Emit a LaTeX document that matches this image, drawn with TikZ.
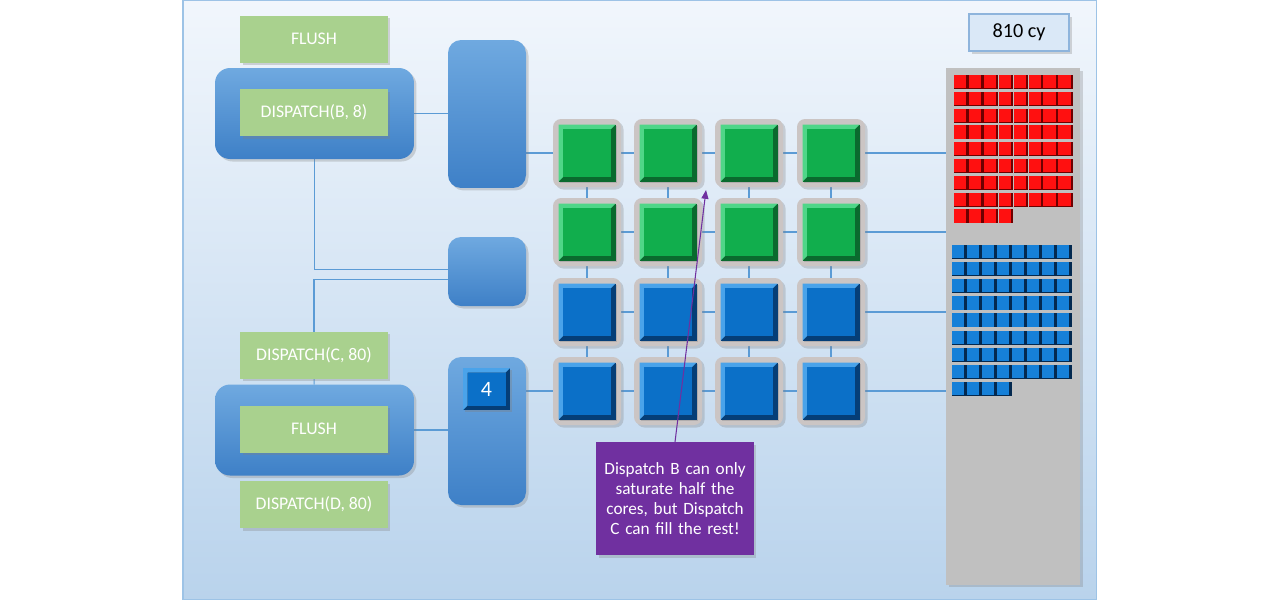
\documentclass[tikz,border=0pt]{standalone}
\usepackage{fontspec}
\setmainfont{Carlito}
\usetikzlibrary{arrows.meta,calc,shadows}

\definecolor{cmdgreen}{HTML}{A9D18E}
\definecolor{qtop}{HTML}{6FA9E0}
\definecolor{qbot}{HTML}{3E80C7}
\definecolor{wire}{HTML}{5B9BD5}
\definecolor{bgtop}{HTML}{F1F6FC}
\definecolor{bgbot}{HTML}{B9D3EC}
\definecolor{framecol}{HTML}{9DC3E6}
\definecolor{cellgray}{HTML}{CBC5C4}
\definecolor{gLight}{HTML}{4FD688}
\definecolor{gMain}{HTML}{11AE4D}
\definecolor{gDark}{HTML}{0A6A2E}
\definecolor{bLight}{HTML}{4AA3EA}
\definecolor{bMain}{HTML}{0B70C8}
\definecolor{bDark}{HTML}{053E77}
\definecolor{memgray}{HTML}{C0C0C0}
\definecolor{noteviolet}{HTML}{7030A0}
\definecolor{cyfill}{HTML}{DAE8F7}
\definecolor{cyline}{HTML}{8EB4DC}
\definecolor{redMain}{HTML}{FF1010}
\definecolor{redDark}{HTML}{6E0000}
\definecolor{blkMain}{HTML}{1680D8}
\definecolor{blkDark}{HTML}{04294F}

\pgfdeclarelayer{bg}
\pgfdeclarelayer{wires}
\pgfsetlayers{bg,wires,main}

\newcommand{\bw}{0.09cm}

\tikzset{
  bevel/.style n args={3}{fill=#3, path picture={
    \fill[#1] (path picture bounding box.north west) -- (path picture bounding box.north east)
      -- ([shift={(-\bw,-\bw)}]path picture bounding box.north east)
      -- ([shift={(\bw,-\bw)}]path picture bounding box.north west)
      -- ([shift={(\bw,\bw)}]path picture bounding box.south west)
      -- (path picture bounding box.south west) -- cycle;
    \fill[#2] ([shift={(\bw,\bw)}]path picture bounding box.south west)
      rectangle ([shift={(-\bw,-\bw)}]path picture bounding box.north east);
  }}
}

\begin{document}
\begin{tikzpicture}[x=0.02cm,y=-0.02cm,
    every node/.style={inner sep=0pt,outer sep=0pt},
    soft/.style={drop shadow={shadow xshift=0.05cm,shadow yshift=-0.05cm,opacity=0.3}},
    cmd/.style={soft,fill=cmdgreen,minimum width=2.96cm,minimum height=0.94cm,
      text=white,font=\fontsize{10.1}{12}\selectfont},
    holder/.style={soft,rounded corners=0.3cm,top color=qtop,bottom color=qbot,
      minimum width=3.98cm,minimum height=1.82cm},
    queue/.style={soft,rounded corners=0.26cm,top color=qtop,bottom color=qbot,
      minimum width=1.56cm},
    cell/.style={soft,fill=cellgray,rounded corners=0.16cm,minimum size=1.36cm},
    core/.style={minimum size=1.14cm,
      drop shadow={shadow xshift=0.03cm,shadow yshift=-0.03cm,opacity=0.35}},
    wire/.style={draw=wire,line width=0.6pt},
    note/.style={soft,fill=noteviolet,minimum width=3.16cm,minimum height=2.26cm,
      text width=2.9cm,align=center,text=white,font=\fontsize{9.8}{11.3}\selectfont},
    pointer/.style={draw=noteviolet,line width=0.6pt,-{Triangle[length=5pt,width=4pt]}}]

  \useasboundingbox (0,0) rectangle (1280,600);
  \begin{pgfonlayer}{bg}
    \shade[top color=bgtop,bottom color=bgbot] (183,0.5) rectangle (1096.5,599.5);
    \draw[framecol,line width=0.8pt] (183,0.5) rectangle (1096.5,599.5);
  \end{pgfonlayer}

  % command lists
  \node[cmd] (flushA) at (314,39) {FLUSH};
  \node[holder] (box1) at (314.5,113.5) {};
  \node[cmd] (dispB) at (314,112.5) {DISPATCH(B, 8)};
  \node[cmd] (dispC) at (314,355) {DISPATCH(C, 80)};
  \node[holder] (box2) at (314.5,430) {};
  \node[cmd] (flushB) at (314,429) {FLUSH};
  \node[cmd] (dispD) at (314,504.5) {DISPATCH(D, 80)};

  % queues
  \node[queue,minimum height=2.96cm] (q1) at (487,114) {};
  \node[queue,minimum height=1.38cm] (q2) at (487,271.5) {};
  \node[queue,minimum height=2.96cm] (q3) at (487,431) {};
  \node[core,minimum width=0.94cm,minimum height=0.84cm,bevel={bLight}{bMain}{bDark},
    text=white,font=\fontsize{12.5}{14}\selectfont] (badge) at (486.5,389) {4};

  % cores
  \foreach \r/\y/\sh in {1/153/g,2/232/g,3/312/b,4/391/b}
    \foreach \c/\x in {1/587,2/668,3/749,4/831}{
      \node[cell] (c-\r-\c) at (\x,\y) {};
      \node[core,bevel={\sh Light}{\sh Main}{\sh Dark}] (s-\r-\c) at (c-\r-\c) {};
    }

  % memory
  \node[cmd,fill=cyfill,draw=cyline,line width=0.6pt,minimum width=2cm,minimum height=0.74cm,
    text=black,font=\fontsize{11.5}{13}\selectfont] (cyc) at (1019,32.5) {810 cy};
  \node[soft,fill=memgray,minimum width=2.68cm,minimum height=10.34cm] (mem) at (1013,326.5) {};
  \foreach \i in {0,...,67}{
    \pgfmathsetmacro\bx{954+14.9*mod(\i,8)}
    \pgfmathsetmacro\by{75+16.8*int(\i/8)}
    \fill[redDark] (\bx,\by) rectangle ++(14.6,14);
    \fill[redMain] (\bx,\by) rectangle ++(12.2,13.2);
  }
  \foreach \i in {0,...,67}{
    \pgfmathsetmacro\bx{952+15*mod(\i,8)}
    \pgfmathsetmacro\by{245+17.1*int(\i/8)}
    \fill[blkDark] (\bx,\by) rectangle ++(14.7,14);
    \fill[blkMain] (\bx,\by) rectangle ++(12.3,13.2);
  }

  \begin{pgfonlayer}{wires}
    \draw[wire] (box1) -- (box1 -| q1.west);
    \draw[wire] (box1.south) |- ($(q2.west)+(0,-2)$);
    \draw[wire] (dispC.north) |- ($(q2.west)+(0,8)$);
    \draw[wire] (dispC) -- (box2);
    \draw[wire] (box2) -- (box2 -| q3.west);
    \draw[wire] (c-1-1 -| q1.east) -- (c-1-1);
    \draw[wire] (c-4-1 -| q3.east) -- (c-4-1);
    \foreach \r in {1,...,4}
      \draw[wire] (c-\r-1) -- (c-\r-4 -| mem.west);
    \foreach \c in {1,...,4}
      \draw[wire] (c-1-\c) -- (c-4-\c);
  \end{pgfonlayer}

  \node[note] (note) at (675,498.5) {Dispatch B can only\\saturate half the\\cores, but Dispatch\\C can fill the rest!};
  \coordinate (tip) at (706,190);
  \draw[pointer] (note.north) -- (tip);
\end{tikzpicture}
\end{document}
